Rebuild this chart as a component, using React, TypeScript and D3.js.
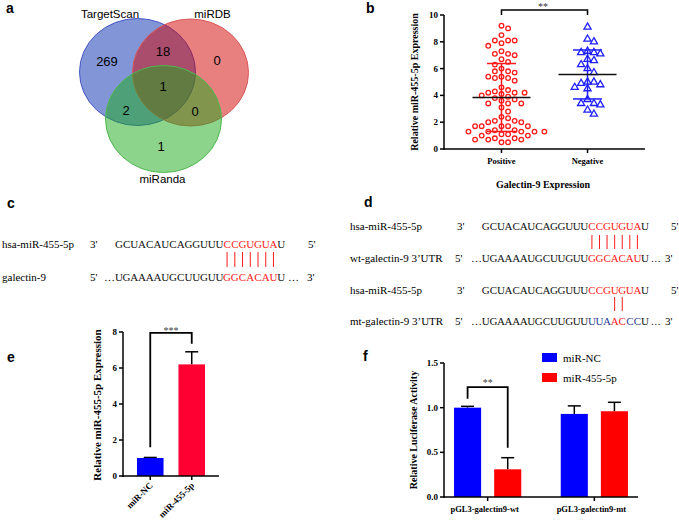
import React from 'react';
import * as d3 from 'd3';

// ---------- DATA ----------
const vennSets = ['TargetScan', 'miRDB', 'miRanda'];
// regions: TS only, TS∩DB, DB only, all three, TS∩Ra, DB∩Ra, Ra only
const vennCounts = [269, 18, 0, 1, 2, 0, 1];

const groupsB = ['Positive', 'Negative'];
const positiveVals = [
  9.2, 9.0, 8.5, 8.1, 8.1, 8.1, 7.9, 7.7, 7.3, 7.1, 7.1, 7.0, 6.7, 6.5, 6.3, 6.0, 5.8, 5.7, 5.8, 5.4,
  5.4, 5.3, 5.3, 5.1, 4.6, 4.4, 4.3, 4.2, 4.1, 4.2, 4.2, 4.0, 3.9, 3.8, 3.4, 3.4, 3.4, 3.6, 3.7, 3.1,
  2.8, 2.0, 2.1, 2.1, 2.3, 2.4, 2.0, 1.7, 1.7, 1.7, 1.7, 1.7, 1.4, 1.4, 1.3, 1.3, 1.3, 1.3, 1.3, 1.1,
  1.0, 1.0, 1.1, 0.7, 0.7, 0.8, 0.7, 0.8, 0.5, 0.5,
];
const negativeVals = [
  9.1, 8.0, 8.2, 7.2, 7.1, 7.3, 7.2, 6.7, 6.6, 6.3, 6.0, 5.7, 4.9, 5.0, 5.0, 4.8, 4.6, 4.5, 3.7, 3.4,
  3.4, 3.3, 2.9, 2.6,
];
const yTicksB = [0, 2, 4, 6, 8, 10];

const mirLabel = 'hsa-miR-455-5p';
const mirSeq = 'GCUACAUCAGGUUUCCGUGUAU';
const wtSeq = 'UGAAAAUGCUUGUUGGCACAUU';
const mtSeq = 'UGAAAAUGCUUGUUUUAACCCU';
const seedIdx = [14, 15, 16, 17, 18, 19, 20];
const mtPairIdx = [17, 18];
const mtMutIdx = [14, 15, 16, 19, 20];

const groupsE = ['miR-NC', 'miR-455-5p'];
const valuesE = [1.0, 6.2];
const errorsE = [0.03, 0.7];
const yTicksE = [0, 2, 4, 6, 8];

const groupsF = ['pGL3-galectin9-wt', 'pGL3-galectin9-mt'];
const seriesF = ['miR-NC', 'miR-455-5p'];
const ncF = [1.0, 0.93];
const ncErrF = [0.015, 0.09];
const mirF = [0.31, 0.96];
const mirErrF = [0.13, 0.1];
const yTicksF = [0, 0.5, 1.0, 1.5];

// ---------- HELPERS ----------
const serif = "'Liberation Serif', 'Times New Roman', serif";
const sans = "'Liberation Sans', Arial, sans-serif";
const RED = '#ff1a1a';
const BLUE = '#1f1fff';

function beeswarm(values: number[], y: (v: number) => number, d: number): number[] {
  const order = values.map((v, i) => i).sort((a, b) => values[b] - values[a]);
  const placed: { x: number; y: number }[] = [];
  const out = new Array(values.length).fill(0);
  const step = d / 2;
  order.forEach((i) => {
    const yy = y(values[i]);
    for (let k = 0; k < 200; k++) {
      const m = Math.ceil(k / 2) * step * (k % 2 === 1 ? 1 : -1);
      const ok = placed.every((p) => (p.x - m) ** 2 + (p.y - yy) ** 2 >= d * d);
      if (ok) {
        placed.push({ x: m, y: yy });
        out[i] = m;
        break;
      }
    }
  });
  return out;
}

function Seq({ x, y, seq, color, pitch }: { x: number; y: number; seq: string; color: (i: number) => string; pitch: number }) {
  return (
    <g>
      {seq.split('').map((ch, i) => (
        <text key={i} x={x + (i + 0.5) * pitch} y={y} textAnchor="middle" fill={color(i)} fontFamily={serif} fontSize={11}>
          {ch}
        </text>
      ))}
    </g>
  );
}

function PairBars({ x, pitch, idx, y1, y2 }: { x: number; pitch: number; idx: number[]; y1: number; y2: number }) {
  return (
    <g>
      {idx.map((i) => (
        <line key={i} x1={x + (i + 0.5) * pitch} x2={x + (i + 0.5) * pitch} y1={y1} y2={y2} stroke={RED} strokeWidth={1} />
      ))}
    </g>
  );
}

const Label = ({ x, y, t }: { x: number; y: number; t: string }) => (
  <text x={x} y={y} fontFamily={sans} fontWeight="bold" fontSize={14}>{t}</text>
);

// ---------- APP ----------
export default function App() {
  // ----- Panel b -----
  const xB = d3.scalePoint<string>().domain(groupsB).range([444, 645]).padding(0.668);
  const yB = d3.scaleLinear().domain([0, 10]).range([149, 15]);
  const offPos = beeswarm(positiveVals, yB, 6.6);
  const offNeg = beeswarm(negativeVals, yB, 6.4);
  const statsB = [positiveVals, negativeVals].map((v) => ({ m: d3.mean(v)!, s: d3.deviation(v)! }));
  const colB = [RED, BLUE];
  const tri = d3.symbol().type(d3.symbolTriangle).size(22)();

  // ----- Panel e -----
  const xE = d3.scaleBand().domain(groupsE).range([123, 219]).paddingInner(0.36).paddingOuter(0.337);
  const yE = d3.scaleLinear().domain([0, 8]).range([476, 332]);
  const colE = ['#0000ff', '#ff0033'];
  const cE = (g: string) => xE(g)! + xE.bandwidth() / 2;

  // ----- Panel f -----
  const xF = d3.scaleBand().domain(groupsF).range([444, 638]).paddingInner(0.37).paddingOuter(0.094);
  const xF1 = d3.scaleBand().domain(seriesF).range([0, xF.bandwidth()]).paddingInner(0.325);
  const yF = d3.scaleLinear().domain([0, 1.5]).range([497, 363]);
  const colF = ['#0000ff', '#ff0000'];
  const fVals = [ncF, mirF];
  const fErr = [ncErrF, mirErrF];
  const cF = (g: string, s: string) => xF(g)! + xF1(s)! + xF1.bandwidth() / 2;

  // venn geometry (layout)
  const ell = [
    { cx: 137.5, cy: 72, fill: '#052daf', stroke: '#4658c6' },
    { cx: 190.5, cy: 72.5, fill: '#d10101', stroke: '#d85a5a' },
    { cx: 163.5, cy: 119, fill: '#19a919', stroke: '#4fb84f' },
  ];
  const vennPos = [
    [107, 66], [163, 56], [217, 65], [163, 91], [126, 115], [195, 116], [161, 151],
  ];

  const pitchC = 7.73;
  const pitchD = 7.58;
  const seqXC = 115;
  const seqXD = 482;

  return (
    <svg width={679} height={527} style={{ position: 'absolute', left: 0, top: 0, background: '#fff' }}>
      <rect width={679} height={527} fill="#fff" />

      {/* ===== Panel a ===== */}
      <Label x={6} y={13} t="a" />
      {ell.map((e, i) => (
        <ellipse key={i} cx={e.cx} cy={e.cy} rx={58} ry={53.5} fill={e.fill} fillOpacity={0.5} stroke={e.stroke} strokeWidth={1} />
      ))}
      <text x={110} y={18} textAnchor="middle" fontFamily={sans} fontSize={11.5}>{vennSets[0]}</text>
      <text x={212.5} y={18} textAnchor="middle" fontFamily={sans} fontSize={11.5}>{vennSets[1]}</text>
      <text x={162.5} y={183} textAnchor="middle" fontFamily={sans} fontSize={11.5}>{vennSets[2]}</text>
      {vennCounts.map((c, i) => (
        <text key={i} x={vennPos[i][0]} y={vennPos[i][1]} textAnchor="middle" fontFamily={sans} fontSize={13}>{c}</text>
      ))}

      {/* ===== Panel b ===== */}
      <Label x={366} y={13} t="b" />
      <g fontFamily={serif} fontWeight="bold">
        <line x1={444} x2={444} y1={yB(10)} y2={yB(0) + 0.75} stroke="#000" strokeWidth={1.5} />
        <line x1={443.25} x2={645} y1={yB(0)} y2={yB(0)} stroke="#000" strokeWidth={1.5} />
        {yTicksB.map((t) => (
          <g key={t}>
            <line x1={440} x2={444} y1={yB(t)} y2={yB(t)} stroke="#000" strokeWidth={1.5} />
            <text x={438} y={yB(t) + 3} textAnchor="end" fontSize={9}>{t}</text>
          </g>
        ))}
        {groupsB.map((g) => (
          <g key={g}>
            <line x1={xB(g)!} x2={xB(g)!} y1={yB(0)} y2={yB(0) + 4} stroke="#000" strokeWidth={1.5} />
            <text x={xB(g)!} y={164} textAnchor="middle" fontSize={8.5}>{g}</text>
          </g>
        ))}
        <text x={543} y={188} textAnchor="middle" fontSize={10}>Galectin-9 Expression</text>
        <text transform={`translate(418,82) rotate(-90)`} textAnchor="middle" fontSize={10}>Relative miR-455-5p Expression</text>
        {/* significance */}
        <path d={`M${xB('Positive')},15 V10 H${xB('Negative')} V15`} fill="none" stroke="#000" strokeWidth={1.5} />
        <text x={543} y={9.5} textAnchor="middle" fontSize={10} fill="#333" fontWeight="normal">**</text>
      </g>
      {positiveVals.map((v, i) => (
        <circle key={'p' + i} cx={xB('Positive')! + offPos[i]} cy={yB(v)} r={2.3} fill="none" stroke={RED} strokeWidth={1.3} />
      ))}
      {negativeVals.map((v, i) => (
        <path key={'n' + i} d={tri!} transform={`translate(${xB('Negative')! + offNeg[i]},${yB(v)})`} fill="none" stroke={BLUE} strokeWidth={1.3} />
      ))}
      {groupsB.map((g, i) => {
        const cx = xB(g)!;
        const { m, s } = statsB[i];
        return (
          <g key={g}>
            <line x1={cx} x2={cx} y1={yB(m - s)} y2={yB(m + s)} stroke={colB[i]} strokeWidth={1.5} />
            <line x1={cx - 14.5} x2={cx + 14.5} y1={yB(m + s)} y2={yB(m + s)} stroke={colB[i]} strokeWidth={1.5} />
            <line x1={cx - 14.5} x2={cx + 14.5} y1={yB(m - s)} y2={yB(m - s)} stroke={colB[i]} strokeWidth={1.5} />
            <line x1={cx - 29} x2={cx + 29} y1={yB(m)} y2={yB(m)} stroke="#111" strokeWidth={1.5} />
          </g>
        );
      })}

      {/* ===== Panel c ===== */}
      <Label x={7} y={208} t="c" />
      <g fontFamily={serif} fontSize={11}>
        <text x={2} y={248}>{mirLabel}</text>
        <text x={90} y={248}>3'</text>
        <text x={308} y={248}>5'</text>
        <text x={2} y={281}>galectin-9</text>
        <text x={90} y={281}>5'</text>
        <text x={seqXC - 11} y={281}>…</text>
        <text x={seqXC + wtSeq.length * pitchC + 3} y={281}>…</text>
        <text x={307} y={281}>3'</text>
      </g>
      <Seq x={seqXC} y={248} seq={mirSeq} pitch={pitchC} color={(i) => (seedIdx.includes(i) ? RED : '#111')} />
      <Seq x={seqXC} y={281} seq={wtSeq} pitch={pitchC} color={(i) => (seedIdx.includes(i) ? RED : '#111')} />
      <PairBars x={seqXC} pitch={pitchC} idx={seedIdx} y1={252} y2={267} />

      {/* ===== Panel d ===== */}
      <Label x={364} y={207} t="d" />
      <g fontFamily={serif} fontSize={11}>
        <text x={350} y={230}>{mirLabel}</text>
        <text x={457} y={230}>3'</text>
        <text x={671} y={230}>5'</text>
        <text x={350} y={262}>wt-galectin-9 3’UTR</text>
        <text x={455} y={262}>5'</text>
        <text x={seqXD - 11} y={262}>…</text>
        <text x={seqXD + wtSeq.length * pitchD + 2} y={262} fontSize={10}>…</text>
        <text x={665} y={262}>3'</text>
        <text x={350} y={294}>{mirLabel}</text>
        <text x={457} y={294}>3'</text>
        <text x={671} y={294}>5'</text>
        <text x={350} y={325}>mt-galectin-9 3’UTR</text>
        <text x={455} y={325}>5'</text>
        <text x={seqXD - 11} y={325}>…</text>
        <text x={seqXD + mtSeq.length * pitchD + 2} y={325} fontSize={10}>…</text>
        <text x={665} y={325}>3'</text>
      </g>
      <Seq x={seqXD} y={230} seq={mirSeq} pitch={pitchD} color={(i) => (seedIdx.includes(i) ? RED : '#111')} />
      <Seq x={seqXD} y={262} seq={wtSeq} pitch={pitchD} color={(i) => (seedIdx.includes(i) ? RED : '#111')} />
      <PairBars x={seqXD} pitch={pitchD} idx={seedIdx} y1={235} y2={249} />
      <Seq x={seqXD} y={294} seq={mirSeq} pitch={pitchD} color={(i) => (seedIdx.includes(i) ? RED : '#111')} />
      <Seq x={seqXD} y={325} seq={mtSeq} pitch={pitchD} color={(i) => (mtPairIdx.includes(i) ? RED : mtMutIdx.includes(i) ? '#2b3a98' : '#111')} />
      <PairBars x={seqXD} pitch={pitchD} idx={mtPairIdx} y1={297} y2={311} />

      {/* ===== Panel e ===== */}
      <Label x={7} y={362} t="e" />
      {groupsE.map((g, i) => (
        <g key={g}>
          <line x1={cE(g)} x2={cE(g)} y1={yE(valuesE[i])} y2={yE(valuesE[i] + errorsE[i])} stroke="#000" strokeWidth={1.5} />
          <line x1={cE(g) - 6.5} x2={cE(g) + 6.5} y1={yE(valuesE[i] + errorsE[i])} y2={yE(valuesE[i] + errorsE[i])} stroke="#000" strokeWidth={1.5} />
          <rect x={xE(g)!} y={yE(valuesE[i])} width={xE.bandwidth()} height={yE(0) - yE(valuesE[i])} fill={colE[i]} />
        </g>
      ))}
      <g fontFamily={serif} fontWeight="bold">
        <line x1={123} x2={123} y1={yE(8)} y2={yE(0) + 0.75} stroke="#000" strokeWidth={1.5} />
        <line x1={122.25} x2={219} y1={yE(0)} y2={yE(0)} stroke="#000" strokeWidth={1.5} />
        {yTicksE.map((t) => (
          <g key={t}>
            <line x1={119} x2={123} y1={yE(t)} y2={yE(t)} stroke="#000" strokeWidth={1.5} />
            <text x={117} y={yE(t) + 3} textAnchor="end" fontSize={9}>{t}</text>
          </g>
        ))}
        {groupsE.map((g) => (
          <g key={g}>
            <line x1={cE(g)} x2={cE(g)} y1={yE(0)} y2={yE(0) + 4} stroke="#000" strokeWidth={1.5} />
            <text transform={`translate(${cE(g) + 3},${yE(0) + 10}) rotate(-45)`} textAnchor="end" fontSize={9}>{g}</text>
          </g>
        ))}
        <text transform={`translate(101,405) rotate(-90)`} textAnchor="middle" fontSize={11}>Relative miR-455-5p Expression</text>
        <path d={`M${cE(groupsE[0])},${yE(1.6)} V${yE(7.95)} H${cE(groupsE[1])} V${yE(7.35)}`} fill="none" stroke="#000" strokeWidth={1.8} />
        <text x={(cE(groupsE[0]) + cE(groupsE[1])) / 2} y={334} textAnchor="middle" fontSize={10} fill="#444" fontWeight="normal">***</text>
      </g>

      {/* ===== Panel f ===== */}
      <Label x={363} y={361} t="f" />
      {groupsF.map((g, gi) =>
        seriesF.map((s, si) => {
          const v = fVals[si][gi];
          const e = fErr[si][gi];
          const cx = cF(g, s);
          return (
            <g key={g + s}>
              <line x1={cx} x2={cx} y1={yF(v)} y2={yF(v + e)} stroke="#000" strokeWidth={1.5} />
              <line x1={cx - 6.5} x2={cx + 6.5} y1={yF(v + e)} y2={yF(v + e)} stroke="#000" strokeWidth={1.5} />
              <rect x={xF(g)! + xF1(s)!} y={yF(v)} width={xF1.bandwidth()} height={yF(0) - yF(v)} fill={colF[si]} />
            </g>
          );
        })
      )}
      <g fontFamily={serif} fontWeight="bold">
        <line x1={444} x2={444} y1={yF(1.5)} y2={yF(0) + 0.75} stroke="#000" strokeWidth={1.5} />
        <line x1={443.25} x2={638} y1={yF(0)} y2={yF(0)} stroke="#000" strokeWidth={1.5} />
        {yTicksF.map((t) => (
          <g key={t}>
            <line x1={440} x2={444} y1={yF(t)} y2={yF(t)} stroke="#000" strokeWidth={1.5} />
            <text x={438} y={yF(t) + 3} textAnchor="end" fontSize={9}>{d3.format('.1f')(t)}</text>
          </g>
        ))}
        {groupsF.map((g) => (
          <g key={g}>
            <line x1={xF(g)! + xF.bandwidth() / 2} x2={xF(g)! + xF.bandwidth() / 2} y1={yF(0)} y2={yF(0) + 4} stroke="#000" strokeWidth={1.5} />
            <text x={xF(g)! + xF.bandwidth() / 2 - 3} y={512} textAnchor="middle" fontSize={8.5}>{g}</text>
          </g>
        ))}
        <text transform={`translate(417,430) rotate(-90)`} textAnchor="middle" fontSize={10}>Relative Luciferase Activity</text>
        <path d={`M${cF(groupsF[0], seriesF[0])},${yF(1.1)} V${yF(1.23)} H${cF(groupsF[0], seriesF[1])} V${yF(0.55)}`} fill="none" stroke="#000" strokeWidth={1.8} />
        <text x={(cF(groupsF[0], seriesF[0]) + cF(groupsF[0], seriesF[1])) / 2} y={385.5} textAnchor="middle" fontSize={10} fill="#444" fontWeight="normal">**</text>
      </g>
      {seriesF.map((s, i) => (
        <g key={s}>
          <rect x={542} y={353 + i * 20} width={15} height={9} fill={colF[i]} />
          <text x={563} y={362 + i * 20} fontFamily={serif} fontSize={11}>{s}</text>
        </g>
      ))}
    </svg>
  );
}
